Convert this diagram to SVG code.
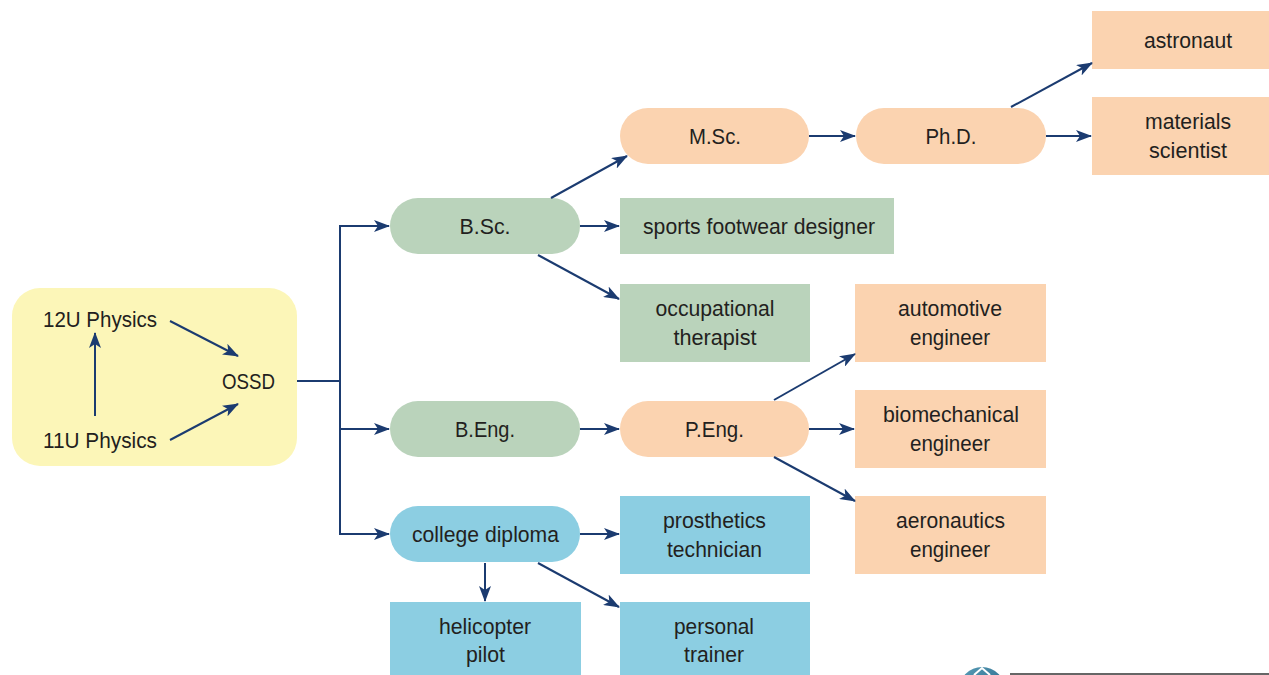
<svg xmlns="http://www.w3.org/2000/svg" width="1269" height="675" viewBox="0 0 1269 675">
<style>
text{font-family:"Liberation Sans",Arial,sans-serif;font-size:22.5px;fill:#231f20;text-anchor:middle}
.y{fill:#fcf6b8}.g{fill:#bad3bb}.p{fill:#fbd3b0}.b{fill:#8ccee2}
.c line,.c polyline{stroke:#1b3b70;stroke-width:2;fill:none}
.a{marker-end:url(#ah)}
</style>
<defs>
<marker id="ah" markerUnits="userSpaceOnUse" markerWidth="16" markerHeight="12" viewBox="0 0 16 12" refX="15" refY="6" orient="auto">
<path d="M0,0 L16,6 L0,12 L4,6 Z" fill="#1b3b70"/>
</marker>
<linearGradient id="lg" x1="0" y1="0" x2="1" y2="1">
<stop offset="0" stop-color="#5a9fb8"/><stop offset="1" stop-color="#1d5a80"/>
</linearGradient>
</defs>
<rect width="1269" height="675" fill="#ffffff"/>

<g id="start">
<rect class="y" x="12" y="288" width="285" height="178" rx="28"/>
<text x="100" y="327" textLength="114" lengthAdjust="spacingAndGlyphs">12U Physics</text>
<text x="100" y="448" textLength="114" lengthAdjust="spacingAndGlyphs">11U Physics</text>
<text x="248.5" y="389" textLength="53" lengthAdjust="spacingAndGlyphs">OSSD</text>
</g>

<g id="bsc"><rect class="g" x="390" y="198" width="190" height="56" rx="28"/><text x="485" y="234" textLength="51" lengthAdjust="spacingAndGlyphs">B.Sc.</text></g>
<g id="msc"><rect class="p" x="620" y="108" width="189" height="56" rx="28"/><text x="715" y="144" textLength="52" lengthAdjust="spacingAndGlyphs">M.Sc.</text></g>
<g id="phd"><rect class="p" x="856" y="108" width="190" height="56" rx="28"/><text x="951" y="144" textLength="51" lengthAdjust="spacingAndGlyphs">Ph.D.</text></g>
<g id="astronaut"><rect class="p" x="1092" y="11" width="177" height="58"/><text x="1188" y="48" textLength="88" lengthAdjust="spacingAndGlyphs">astronaut</text></g>
<g id="materials"><rect class="p" x="1092" y="97" width="177" height="78"/><text x="1188" y="128.5" textLength="86" lengthAdjust="spacingAndGlyphs">materials</text><text x="1188" y="158" textLength="78" lengthAdjust="spacingAndGlyphs">scientist</text></g>
<g id="sports"><rect class="g" x="620" y="198" width="274" height="56"/><text x="759" y="234" textLength="232" lengthAdjust="spacingAndGlyphs">sports footwear designer</text></g>
<g id="occupational"><rect class="g" x="620" y="284" width="190" height="78"/><text x="715" y="315.5" textLength="119" lengthAdjust="spacingAndGlyphs">occupational</text><text x="715" y="345" textLength="83" lengthAdjust="spacingAndGlyphs">therapist</text></g>
<g id="automotive"><rect class="p" x="855" y="284" width="191" height="78"/><text x="950" y="315.5" textLength="104" lengthAdjust="spacingAndGlyphs">automotive</text><text x="950" y="345" textLength="80" lengthAdjust="spacingAndGlyphs">engineer</text></g>
<g id="beng"><rect class="g" x="390" y="401" width="190" height="56" rx="28"/><text x="485" y="437" textLength="60" lengthAdjust="spacingAndGlyphs">B.Eng.</text></g>
<g id="peng"><rect class="p" x="620" y="401" width="189" height="56" rx="28"/><text x="714.5" y="437" textLength="59" lengthAdjust="spacingAndGlyphs">P.Eng.</text></g>
<g id="biomechanical"><rect class="p" x="855" y="390" width="191" height="78"/><text x="951" y="421.5" textLength="136" lengthAdjust="spacingAndGlyphs">biomechanical</text><text x="950" y="451" textLength="80" lengthAdjust="spacingAndGlyphs">engineer</text></g>
<g id="aeronautics"><rect class="p" x="855" y="496" width="191" height="78"/><text x="950.5" y="527.5" textLength="109" lengthAdjust="spacingAndGlyphs">aeronautics</text><text x="950" y="557" textLength="80" lengthAdjust="spacingAndGlyphs">engineer</text></g>
<g id="college"><rect class="b" x="390" y="506" width="190" height="56" rx="28"/><text x="485.5" y="542" textLength="147" lengthAdjust="spacingAndGlyphs">college diploma</text></g>
<g id="prosthetics"><rect class="b" x="620" y="496" width="190" height="78"/><text x="714.5" y="527.5" textLength="103" lengthAdjust="spacingAndGlyphs">prosthetics</text><text x="714.5" y="557" textLength="95" lengthAdjust="spacingAndGlyphs">technician</text></g>
<g id="helicopter"><rect class="b" x="390" y="602" width="191" height="73"/><text x="485" y="633.5" textLength="92" lengthAdjust="spacingAndGlyphs">helicopter</text><text x="485.5" y="662" textLength="39" lengthAdjust="spacingAndGlyphs">pilot</text></g>
<g id="personal"><rect class="b" x="620" y="602" width="190" height="73"/><text x="714" y="633.5" textLength="80" lengthAdjust="spacingAndGlyphs">personal</text><text x="714" y="662" textLength="60" lengthAdjust="spacingAndGlyphs">trainer</text></g>

<g class="c" id="connectors">
<line class="a" x1="95" y1="416" x2="95" y2="333"/>
<line class="a" x1="170" y1="321" x2="238" y2="356"/>
<line class="a" x1="170" y1="440" x2="238" y2="404"/>
<polyline points="297,381 340,381"/>
<line x1="340" y1="225" x2="340" y2="535"/>
<line class="a" x1="340" y1="226" x2="389" y2="226"/>
<line class="a" x1="340" y1="429" x2="389" y2="429"/>
<line class="a" x1="340" y1="534" x2="389" y2="534"/>
<line class="a" x1="551" y1="198" x2="627" y2="156"/>
<line class="a" x1="580" y1="226" x2="619" y2="226"/>
<line class="a" x1="538" y1="255" x2="619" y2="299"/>
<line class="a" x1="809" y1="136" x2="855" y2="136"/>
<line class="a" x1="1011" y1="107" x2="1092" y2="63"/>
<line class="a" x1="1046" y1="136" x2="1091" y2="136"/>
<line class="a" x1="580" y1="429" x2="619" y2="429"/>
<line class="a" x1="774" y1="400" x2="855" y2="354"/>
<line class="a" x1="809" y1="429" x2="854" y2="429"/>
<line class="a" x1="774" y1="457" x2="855" y2="501"/>
<line class="a" x1="580" y1="534" x2="619" y2="534"/>
<line class="a" x1="485" y1="563" x2="485" y2="601"/>
<line class="a" x1="538" y1="563" x2="619" y2="607"/>
</g>

<circle cx="982" cy="690" r="23" fill="url(#lg)"/>
<path d="M974,675 L982,668 L990,675" fill="none" stroke="#ffffff" stroke-width="2"/>
<line x1="1010" y1="674" x2="1269" y2="674" stroke="#333333" stroke-width="1.5"/>
</svg>
